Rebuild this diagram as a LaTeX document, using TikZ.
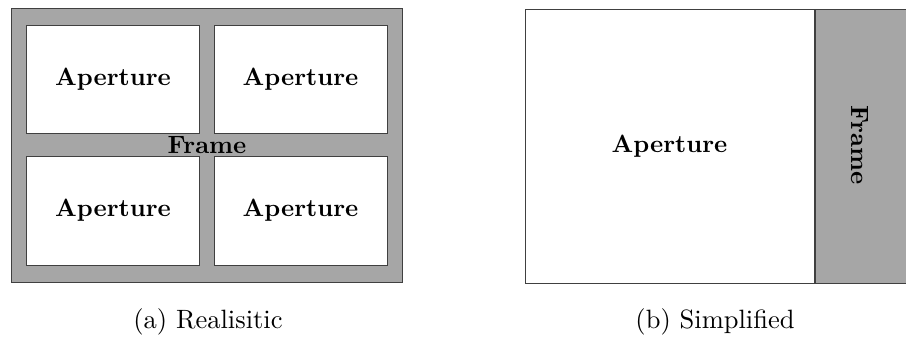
\documentclass[tikz,border=0pt]{standalone}
\usepackage{amsmath}
\usepackage{tikz}

\begin{document}
\begin{tikzpicture}[x=0.4pt, y=-0.4pt,
    every node/.style={inner sep=0pt},
    framebox/.style={draw=black!75, line width=0.4pt, fill=gray!70, rectangle},
    aperture/.style={draw=black!75, line width=0.4pt, fill=white, rectangle, font=\bfseries},
    caption/.style={font=\fontsize{10.6pt}{12pt}\selectfont}]

    \useasboundingbox (0,0) rectangle (906,341);

    % realistic
    \node[framebox, minimum width=156.4pt, minimum height=109.6pt] (frm) at (207,145) {};

    \node[aperture, minimum width=68.8pt, minimum height=43.2pt] (ap1) at (113,79) {Aperture};
    \node[aperture, minimum width=69.2pt, minimum height=43.2pt] (ap2) at (300.5,79) {Aperture};
    \node[aperture, minimum width=68.8pt, minimum height=43.6pt] (ap3) at (113,210.5) {Aperture};
    \node[aperture, minimum width=69.2pt, minimum height=43.6pt] (ap4) at (300.5,210.5) {Aperture};

    \node[font=\bfseries] (frmlbl) at (207,145) {Frame};

    \node[caption] (capa) at (208,322) {(a) Realisitic};

    % simplified
    \node[aperture, minimum width=115.6pt, minimum height=109.6pt] (ap) at (669.5,146) {Aperture};
    \node[framebox, minimum width=37.6pt, minimum height=109.6pt, anchor=west] (side) at (ap.east) {};
    \node[font=\bfseries, rotate=-90] (sidelbl) at (860,145) {Frame};

    \node[caption] (capb) at (715,322) {(b) Simplified};

\end{tikzpicture}
\end{document}
